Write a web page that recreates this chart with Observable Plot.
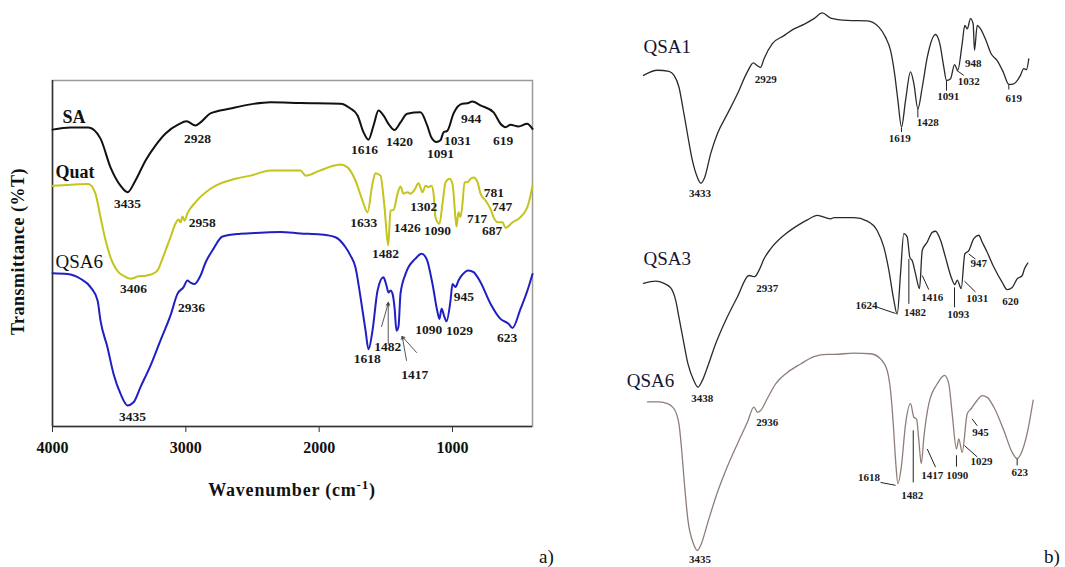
<!DOCTYPE html>
<html><head><meta charset="utf-8">
<script src="https://cdn.jsdelivr.net/npm/d3@7"></script>
<script src="https://cdn.jsdelivr.net/npm/@observablehq/plot@0.6"></script>
<style>
body{margin:0;background:#fff;}
#wrap{position:relative;width:1065px;height:567px;overflow:hidden;font-family:"Liberation Serif",serif;background:#fff;}
#left{position:absolute;left:0;top:0;}
#right{position:absolute;left:600px;top:0;}
.tag{position:absolute;font-size:19px;line-height:22px;color:#111;font-family:"Liberation Serif",serif;}
</style></head><body>
<div id="wrap"><div id="left"></div><div id="right"></div>
<div class="tag" style="left:539px;top:546px">a)</div>
<div class="tag" style="left:1044px;top:546px">b)</div>
</div>
<script>
// ---------- tick labels ----------
const xTicks = [4000, 3000, 2000, 1000];

// ---------- panel a) spectra: [wavenumber, transmittance] ----------
const saSpectrum = [[4000,85.8],[3865,86.4],[3730,86.4],[3640,83.2],[3565,74.9],[3490,69.6],[3437,67.7],[3378,71.1],[3302,76.9],[3228,81.2],[3152,84.7],[3055,87.3],[2995,88.2],[2928,87.0],[2890,87.9],[2815,90.5],[2665,91.9],[2515,93.1],[2365,93.7],[2140,93.5],[1840,93.3],[1765,91.9],[1712,89.9],[1668,85.1],[1630,82.9],[1592,87.0],[1555,91.3],[1518,89.9],[1472,87.0],[1435,85.7],[1390,87.9],[1340,90.4],[1240,90.8],[1190,87.0],[1158,83.5],[1120,82.2],[1090,82.7],[1068,85.0],[1038,85.5],[992,90.5],[927,93.3],[887,93.4],[852,93.9],[790,92.8],[692,90.8],[640,87.5],[602,86.5],[565,87.2],[505,86.7],[440,87.5],[400,86.0]];

const quatSpectrum = [[4000,69.6],[3865,69.9],[3730,70.1],[3678,67.3],[3640,60.5],[3602,53.8],[3565,48.9],[3505,44.6],[3460,43.4],[3415,42.7],[3355,43.4],[3302,43.6],[3250,44.1],[3212,45.1],[3190,47.0],[3152,50.9],[3115,54.7],[3078,58.6],[3055,59.8],[3040,59.0],[3025,60.7],[3010,59.5],[2988,61.6],[2928,64.8],[2815,68.7],[2628,71.6],[2515,72.5],[2365,74.0],[2140,74.0],[2102,72.5],[2005,73.8],[1878,75.5],[1840,75.7],[1787,74.9],[1728,71.1],[1675,65.3],[1638,61.9],[1600,70.2],[1578,73.2],[1540,72.5],[1510,63.4],[1482,52.3],[1465,62.4],[1442,62.6],[1412,67.3],[1390,69.4],[1368,67.3],[1338,67.7],[1315,67.3],[1285,68.4],[1255,70.3],[1225,67.7],[1202,69.6],[1180,69.2],[1158,69.6],[1142,67.3],[1128,60.5],[1098,58.6],[1075,64.4],[1052,70.6],[1022,71.6],[1000,70.1],[978,60.5],[970,57.8],[955,61.9],[940,60.5],[925,64.4],[910,70.6],[888,70.6],[865,71.6],[842,72.0],[812,70.6],[790,67.3],[752,65.3],[715,62.9],[692,60.5],[662,59.0],[625,59.0],[602,57.4],[550,59.0],[490,60.5],[430,64.4],[400,69.6]];

const qsa6aSpectrum = [[4000,44.3],[3888,44.1],[3790,42.7],[3715,40.3],[3662,36.4],[3640,30.6],[3588,22.9],[3542,15.2],[3490,9.5],[3437,6.1],[3392,7.0],[3340,11.4],[3265,17.6],[3190,24.9],[3115,32.1],[3062,38.4],[3017,40.3],[2988,42.2],[2965,41.6],[2935,41.2],[2890,43.6],[2852,47.4],[2792,51.4],[2725,54.9],[2590,55.7],[2440,56.0],[2290,56.2],[2140,55.8],[1990,55.5],[1878,54.7],[1802,51.8],[1765,49.4],[1728,46.0],[1690,37.4],[1652,27.7],[1630,22.3],[1600,27.7],[1562,39.3],[1518,43.1],[1495,40.7],[1480,38.7],[1465,39.3],[1450,38.4],[1435,34.5],[1420,27.7],[1405,28.9],[1390,38.4],[1352,44.1],[1278,48.5],[1232,49.9],[1195,48.5],[1150,41.2],[1112,33.0],[1098,31.1],[1082,34.0],[1060,31.6],[1045,30.4],[1015,36.4],[1000,41.2],[978,40.3],[955,42.2],[932,43.6],[880,45.1],[842,44.6],[790,41.7],[715,35.5],[640,31.1],[580,29.7],[550,28.5],[490,34.0],[438,39.3],[400,44.1]];

// panel a) peak labels: [text, wavenumber, transmittance]
const saPeaks = [["2928",2912,83.2],["3435",3437,64.4],["1616",1660,80.1],["1420",1397,82.2],["1091",1090,78.9],["1031",962,82.7],["944",860,88.9],["619",620,82.5]];
const quatPeaks = [["2958",2877,59.0],["3406",3392,39.8],["1633",1665,59.0],["1482",1502,49.9],["1426",1340,57.4],["1302",1215,63.4],["1090",1113,56.7],["717",815,60.0],["687",702,56.7],["781",690,67.6],["747",627,63.4]];
const qsa6aPeaks = [["3435",3400,2.7],["2936",2957,34.3],["1618",1640,19.6],["1482",1485,23.2],["1417",1283,15.0],["1090",1178,28.0],["1029",948,27.7],["945",915,37.4],["623",590,25.6]];
const boldNamesA = [["SA",3925,89.4],["Quat",3977,73.5]];
const plainNamesA = [["QSA6",3977,47.5]];
// arrows [x1,y1,x2,y2]
const qsa6aArrows = [[1532,28.9,1482,35.6],[1482,24.0,1482,35.9],[1345,19.1,1377,26.0],[1270,21.4,1377,26.0]];

// ---------- panel b) spectra ----------
const qsa1Spectrum = [[3955,86.8],[3827,87.7],[3722,87.5],[3676,86.8],[3631,84.7],[3591,80.6],[3554,76.5],[3509,71.8],[3463,68.8],[3433,67.8],[3397,68.8],[3342,73.0],[3281,76.5],[3190,80.0],[3099,83.5],[3008,87.4],[2953,89.0],[2917,88.5],[2887,88.2],[2857,89.7],[2780,92.4],[2674,93.8],[2583,95.0],[2492,95.8],[2401,96.8],[2325,97.8],[2249,96.9],[2097,96.5],[1915,96.4],[1809,95.3],[1748,93.5],[1703,91.2],[1666,87.1],[1636,82.4],[1603,77.7],[1566,82.4],[1521,87.4],[1490,85.3],[1454,80.9],[1414,84.7],[1368,90.0],[1293,94.0],[1254,92.4],[1217,88.2],[1193,85.9],[1156,86.2],[1120,88.7],[1090,87.7],[1050,92.4],[1026,95.6],[1004,95.0],[974,96.8],[950,95.9],[938,91.2],[913,95.6],[883,95.0],[838,93.2],[786,90.6],[731,89.4],[676,87.4],[625,85.2],[580,85.3],[519,86.8],[489,88.0],[464,87.8],[443,89.7]];

const qsa3Spectrum = [[3955,50.1],[3843,50.5],[3767,50.1],[3706,49.3],[3661,47.1],[3631,44.1],[3591,40.0],[3549,35.9],[3494,32.9],[3458,31.8],[3418,33.0],[3372,35.3],[3296,39.5],[3205,43.6],[3099,47.7],[2993,51.5],[2941,51.3],[2902,52.4],[2857,54.4],[2796,56.2],[2674,58.6],[2552,60.3],[2461,61.3],[2370,62.1],[2249,61.5],[2219,61.7],[2037,61.7],[1915,61.1],[1824,59.4],[1764,56.5],[1718,52.4],[1678,47.7],[1642,44.7],[1612,51.8],[1582,58.9],[1551,58.3],[1527,54.7],[1505,54.1],[1475,51.8],[1439,49.2],[1414,55.9],[1368,57.4],[1323,59.1],[1293,59.3],[1247,57.7],[1202,54.7],[1150,51.2],[1117,49.9],[1095,50.7],[1059,49.2],[1026,55.3],[990,55.9],[944,58.0],[899,58.6],[868,57.4],[822,55.6],[762,53.0],[685,50.3],[640,49.0],[594,49.4],[549,50.9],[503,51.5],[482,52.7],[452,53.7]];

const qsa6bSpectrum = [[3918,29.2],[3813,29.2],[3736,28.9],[3676,28.0],[3631,25.3],[3606,20.6],[3579,14.2],[3549,8.3],[3499,4.2],[3463,3.0],[3427,4.2],[3372,7.7],[3296,12.4],[3205,17.1],[3099,21.8],[3008,25.6],[2948,28.3],[2917,27.4],[2887,27.7],[2826,29.8],[2750,32.4],[2643,34.4],[2522,35.9],[2401,37.2],[2279,37.6],[2219,37.6],[2037,37.8],[1885,37.7],[1794,36.8],[1733,34.7],[1703,31.2],[1678,25.3],[1657,18.9],[1636,14.8],[1605,17.7],[1566,25.3],[1521,28.9],[1490,26.5],[1466,26.2],[1445,22.4],[1423,18.3],[1399,23.0],[1354,28.9],[1277,32.4],[1211,33.9],[1172,32.4],[1141,27.1],[1102,20.9],[1081,22.7],[1050,20.3],[1004,27.1],[968,28.0],[913,29.5],[868,30.3],[822,30.0],[762,28.3],[671,24.2],[594,20.3],[549,19.2],[503,20.6],[452,24.2],[403,29.5]];

// panel b) peak labels
const qsa1Peaks = [["2929",2841,86.1],["3433",3439,65.9],["1619",1618,75.6],["1428",1363,78.5],["1091",1177,83.1],["1032",990,85.8],["948",950,88.9],["619",580,82.8]];
const qsa3Peaks = [["2937",2826,49.3],["3438",3418,29.8],["1624",1921,46.2],["1482",1481,45.0],["1416",1323,47.6],["1093",1086,44.6],["1031",913,47.4],["947",899,53.7],["620",610,47.0]];
const qsa6bPeaks = [["2936",2826,25.6],["3435",3439,1.4],["1618",1900,15.9],["1482",1505,12.7],["1417",1323,16.2],["1090",1095,16.3],["1029",874,18.7],["945",883,23.9],["623",525,16.8]];
const seriesNamesB = [["QSA1",3955,91.8],["QSA3",3955,54.4],["QSA6",4107,32.9]];
// leader lines [x1,y1,x2,y2]
const leadersB = [[1603,77.6,1603,76.8],[1454,81.0,1454,79.4],[1193,85.9,1193,84.1],[1102,87.7,1035,86.8],[625,85.2,625,84.3],
  [1824,45.9,1657,44.8],[1536,54.4,1536,46.5],[1414,51.5,1354,49.0],[1120,49.4,1120,45.9],[1029,50.5,929,48.6],[990,55.3,929,54.4],
  [1794,15.0,1657,14.5],[1496,24.2,1496,15.0],[1368,20.9,1293,17.7],[1102,19.8,1102,17.8],[1029,21.5,913,19.5],[959,26.2,913,25.0],[549,19.2,549,18.0]];

const serif = "Liberation Serif";
const fx = d => d[0], fy = d => d[1];
const lbl = (arr, size, extra = {}) => Plot.text(arr, {x: d => d[1], y: d => d[2], text: d => d[0], fontSize: size, fontWeight: "bold", fill: "#1a1a1a", fontFamily: serif, ...extra});

// ---------- panel a ----------
const left = Plot.plot({
  width: 560, height: 520,
  marginLeft: 52, marginRight: 28, marginTop: 80, marginBottom: 94,
  style: {fontFamily: serif, background: "transparent", overflow: "visible"},
  x: {domain: [4000, 400], range: [52, 532]},
  y: {domain: [0, 100], axis: null},
  marks: [
    Plot.frame({stroke: "#9a9a9a", strokeWidth: 1.5}),
    Plot.ruleY([0], {stroke: "#333", strokeWidth: 1.5}),
    Plot.ruleX([4000], {stroke: "#333", strokeWidth: 1.5}),
    Plot.axisX({ticks: xTicks, tickFormat: "d", tickSize: 6, tickPadding: 9, fontSize: 16, fontWeight: "bold", label: null, stroke: "#333", fill: "#111"}),
    Plot.line(saSpectrum, {x: fx, y: fy, stroke: "#111", strokeWidth: 2, curve: "monotone-x"}),
    Plot.line(quatSpectrum, {x: fx, y: fy, stroke: "#c4c41c", strokeWidth: 2, curve: "monotone-x"}),
    Plot.line(qsa6aSpectrum, {x: fx, y: fy, stroke: "#1f1fc4", strokeWidth: 2, curve: "monotone-x"}),
    Plot.arrow(qsa6aArrows, {x1: d => d[0], y1: d => d[1], x2: d => d[2], y2: d => d[3], stroke: "#444", strokeWidth: 0.9, headLength: 5}),
    lbl(saPeaks, 13.5), lbl(quatPeaks, 13.5), lbl(qsa6aPeaks, 13.5),
    Plot.text(boldNamesA, {x: d => d[1], y: d => d[2], text: d => d[0], fontWeight: "bold", fontSize: 18, textAnchor: "start", fill: "#111", fontFamily: serif}),
    Plot.text(plainNamesA, {x: d => d[1], y: d => d[2], text: d => d[0], fontWeight: "normal", fontSize: 19, textAnchor: "start", fill: "#111", fontFamily: serif})
  ]
});
d3.select(left).append("text")
  .attr("transform", "translate(18,251.5) rotate(-90)").attr("text-anchor", "middle").attr("dy", "0.35em")
  .attr("font-family", serif).attr("font-size", 18).attr("font-weight", "bold").attr("fill", "#111").attr("letter-spacing", "0.5px")
  .text("Transmittance (%T)");
d3.select(left).append("text")
  .attr("x", 292).attr("y", 496).attr("text-anchor", "middle")
  .attr("font-family", serif).attr("font-size", 18).attr("font-weight", "bold").attr("fill", "#111").attr("letter-spacing", "0.8px")
  .call(t => {
    t.append("tspan").text("Wavenumber (cm");
    t.append("tspan").attr("dy", -7).attr("font-size", 13).text("-1");
    t.append("tspan").attr("dy", 7).text(")");
  });
document.getElementById("left").append(left);

// ---------- panel b ----------
const right = Plot.plot({
  width: 465, height: 567,
  marginLeft: 38, marginRight: 32, marginTop: 0, marginBottom: 0,
  style: {fontFamily: serif, background: "transparent", overflow: "visible"},
  x: {domain: [4000, 400], axis: null},
  y: {domain: [0, 100], axis: null},
  marks: [
    Plot.line(qsa1Spectrum, {x: fx, y: fy, stroke: "#2a2a2a", strokeWidth: 1.3, curve: "monotone-x"}),
    Plot.line(qsa3Spectrum, {x: fx, y: fy, stroke: "#2a2a2a", strokeWidth: 1.3, curve: "monotone-x"}),
    Plot.line(qsa6bSpectrum, {x: fx, y: fy, stroke: "#8f7d78", strokeWidth: 1.3, curve: "monotone-x"}),
    Plot.link(leadersB, {x1: d => d[0], y1: d => d[1], x2: d => d[2], y2: d => d[3], stroke: "#222", strokeWidth: 1}),
    lbl(qsa1Peaks, 11), lbl(qsa3Peaks, 11), lbl(qsa6bPeaks, 11),
    Plot.text(seriesNamesB, {x: d => d[1], y: d => d[2], text: d => d[0], fontSize: 19, textAnchor: "start", fill: "#141432", fontFamily: serif})
  ]
});
document.getElementById("right").append(right);
</script>
</body></html>
